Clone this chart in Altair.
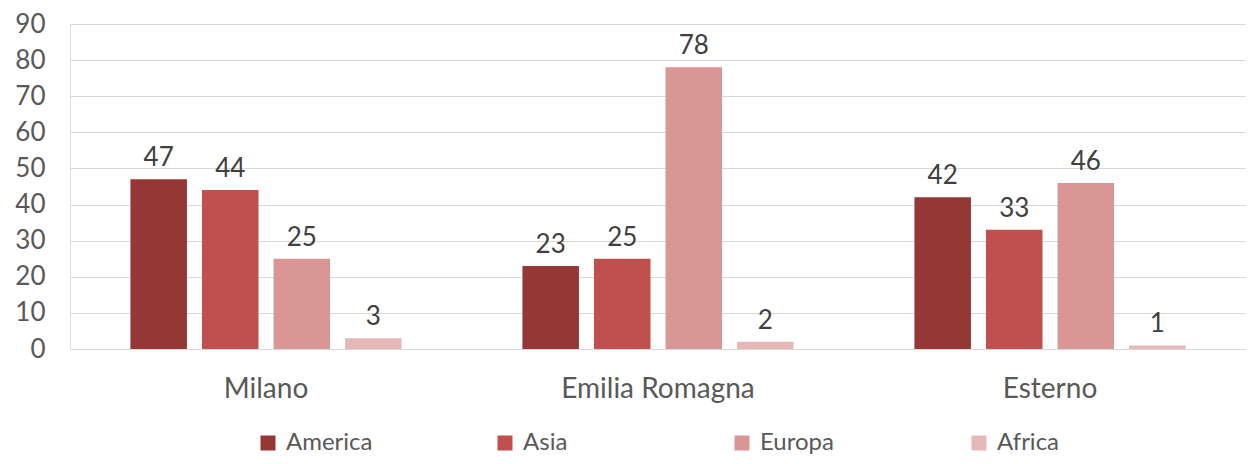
import altair as alt
import pandas as pd

regions = ["Milano", "Emilia Romagna", "Esterno"]
continents = ["America", "Asia", "Europa", "Africa"]
america = [47, 23, 42]
asia = [44, 25, 33]
europa = [25, 78, 46]
africa = [3, 2, 1]
colors = ["#953735", "#C0504D", "#D99694", "#E6B9B8"]
y_ticks = [0, 10, 20, 30, 40, 50, 60, 70, 80, 90]

series = {"America": america, "Asia": asia, "Europa": europa, "Africa": africa}
rows = []
for c in continents:
    for r, v in zip(regions, series[c]):
        rows.append({"Regione": r, "Continente": c, "Valore": v})
df = pd.DataFrame(rows)

FONT = "Lato"

base = alt.Chart(df).encode(
    x=alt.X("Regione:N", sort=regions,
            scale=alt.Scale(paddingInner=0.27, paddingOuter=0.135),
            axis=alt.Axis(title=None, labelAngle=0, ticks=False, domain=False,
                          labelFontSize=28, labelColor="#595959", labelFont=FONT,
                          labelPadding=26, labelBaseline="top", labelLimit=400)),
    xOffset=alt.XOffset("Continente:N", sort=continents,
                        scale=alt.Scale(paddingInner=0.21, paddingOuter=0.105)),
    y=alt.Y("Valore:Q", scale=alt.Scale(domain=[0, 90], nice=False),
            axis=alt.Axis(title=None, values=y_ticks, ticks=False, domain=False,
                          grid=True, gridColor="#D9D9D9", gridWidth=1,
                          labelFontSize=26, labelColor="#595959", labelFont=FONT,
                          labelPadding=25)),
)

bars = base.mark_bar().encode(
    color=alt.Color("Continente:N", sort=continents,
                    scale=alt.Scale(domain=continents, range=colors),
                    legend=alt.Legend(title=None, orient="none", direction="horizontal",
                                      legendX=186, legendY=407,
                                      symbolType="square", symbolSize=225,
                                      symbolStrokeWidth=0, labelFontSize=24,
                                      labelFont=FONT, labelColor="#595959",
                                      labelOffset=6, columnPadding=120,
                                      gridAlign="all"))
)

labels = base.mark_text(baseline="bottom", dy=-8, fontSize=26, font=FONT,
                        color="#404040").encode(text=alt.Text("Valore:Q"))

chart = alt.layer(bars, labels).properties(
    width=1176, height=325,
    autosize=alt.AutoSizeParams(type="none"),
    padding={"left": 62, "top": 16, "right": 0, "bottom": 107},
).configure_view(stroke=None).configure(background="white")

chart.save("out.html", embed_options={"renderer": "svg", "actions": False})
